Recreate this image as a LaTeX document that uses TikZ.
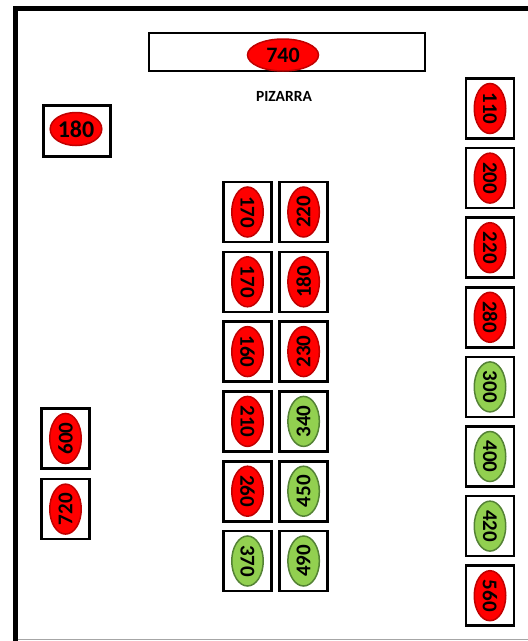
\documentclass[tikz,border=0pt]{standalone}
\usepackage{fontspec}
\setmainfont{Carlito}
\usepackage{xcolor}
\usepackage{tikz}
\usetikzlibrary{shapes.geometric, positioning}
\definecolor{seat-red}{RGB}{255, 0, 0}
\definecolor{seat-redline}{RGB}{192, 0, 0}
\definecolor{seat-green}{RGB}{146, 208, 80}
\definecolor{seat-greenline}{RGB}{84, 130, 53}

\begin{document}
\begin{tikzpicture}[x=1pt, y=-1pt,
    desk/.style={rectangle, draw=black, line width=2.6pt,
                 minimum width=48pt, minimum height=60pt, inner sep=0pt},
    seat/.style={ellipse, line width=1.5pt, inner sep=0pt,
                 minimum width=50pt, minimum height=31.5pt,
                 font=\fontsize{21}{21}\selectfont\bfseries},
    rseat/.style={seat, fill=seat-red, draw=seat-redline},
    gseat/.style={seat, fill=seat-green, draw=seat-greenline},
    readup/.style={rotate=90},
    readdown/.style={rotate=-90}
  ]
    \useasboundingbox (0,0) rectangle (528,641);
    % room walls
    \draw[line width=5pt] (15,641) -- (15,8.7) -- (528,8.7);
    \draw[black!35, line width=1pt] (17.5,639.5) -- (528,639.5);

    % board and teacher
    \node[desk, line width=2.2pt, minimum width=275.5pt, minimum height=37.5pt] (board) at (287,52) {};
    \node[rseat, minimum width=71pt, minimum height=32pt,
          font=\fontsize{22}{22}\selectfont\bfseries] (s740) at (283,55) {740};
    \node[font=\fontsize{15.5}{15.5}\selectfont\bfseries] (pizarra) at (284,96) {PIZARRA};

    \node[desk, minimum width=67.5pt, minimum height=51.5pt] (t) at (77,131) {};
    \node[rseat, minimum width=49pt, minimum height=33pt,
          font=\fontsize{24}{24}\selectfont\bfseries] (st) at (76,129) {180};

    % middle columns
    \node[desk] (a1) at (247.5,212) {};
    \node[desk, below=7.2pt of a1] (a2) {};
    \node[desk, below=7.2pt of a2] (a3) {};
    \node[desk, below=7.2pt of a3] (a4) {};
    \node[desk, below=7.2pt of a4] (a5) {};
    \node[desk, below=7.2pt of a5] (a6) {};
    \node[desk, right=5.5pt of a1] (b1) {};
    \node[desk, right=5.5pt of a2] (b2) {};
    \node[desk, right=5.5pt of a3] (b3) {};
    \node[desk, right=5.5pt of a4] (b4) {};
    \node[desk, right=5.5pt of a5] (b5) {};
    \node[desk, right=5.5pt of a6] (b6) {};

    \node[rseat, readdown] (sa1) at (a1) {170};
    \node[rseat, readdown] (sa2) at (a2) {170};
    \node[rseat, readdown] (sa3) at (a3) {160};
    \node[rseat, readdown] (sa4) at (a4) {210};
    \node[rseat, readdown] (sa5) at (a5) {260};
    \node[gseat, readdown] (sa6) at (a6) {370};
    \node[rseat, readup] (sb1) at (b1) {220};
    \node[rseat, readup] (sb2) at (b2) {180};
    \node[rseat, readup] (sb3) at (b3) {230};
    \node[gseat, readup] (sb4) at (b4) {340};
    \node[gseat, readup] (sb5) at (b5) {450};
    \node[gseat, readup] (sb6) at (b6) {490};

    % left column
    \node[desk] (l1) at (65.5,438.5) {};
    \node[desk, below=8pt of l1] (l2) {};
    \node[rseat, readup] (sl1) at (l1) {600};
    \node[rseat, readup] (sl2) at (l2) {720};

    % right column
    \node[desk] (r1) at (490,108.5) {};
    \node[desk, below=7pt of r1] (r2) {};
    \node[desk, below=7pt of r2] (r3) {};
    \node[desk, below=7pt of r3] (r4) {};
    \node[desk, below=7pt of r4] (r5) {};
    \node[desk, below=7pt of r5] (r6) {};
    \node[desk, below=7pt of r6] (r7) {};
    \node[desk, below=7pt of r7] (r8) {};
    \node[rseat, readdown] (sr1) at (r1) {110};
    \node[rseat, readdown] (sr2) at (r2) {200};
    \node[rseat, readdown] (sr3) at (r3) {220};
    \node[rseat, readdown] (sr4) at (r4) {280};
    \node[gseat, readdown] (sr5) at (r5) {300};
    \node[gseat, readdown] (sr6) at (r6) {400};
    \node[gseat, readdown] (sr7) at (r7) {420};
    \node[rseat, readdown] (sr8) at (r8) {560};
  \end{tikzpicture}
\end{document}
